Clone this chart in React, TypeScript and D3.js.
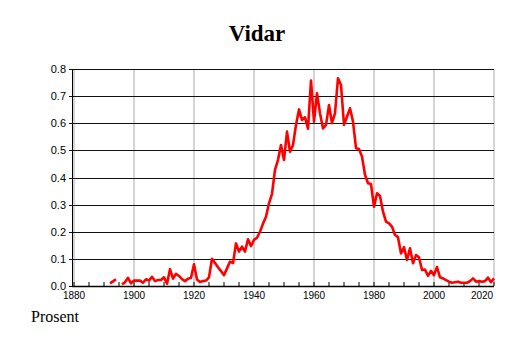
import React from "react";
import * as d3 from "d3";

const years: number[] = d3.range(1892, 2021);
const values: (number | null)[] = [
  // 1892-1899
  0.01, 0.017, 0.025, null, 0.006, 0.014, 0.03, 0.01,
  // 1900-1909
  0.02, 0.02, 0.02, 0.012, 0.025, 0.02, 0.034, 0.018, 0.022, 0.022,
  // 1910-1919
  0.032, 0.008, 0.062, 0.027, 0.045, 0.037, 0.025, 0.018, 0.027, 0.03,
  // 1920-1929
  0.08, 0.024, 0.015, 0.018, 0.02, 0.032, 0.1, 0.085, 0.069, 0.055,
  // 1930-1939
  0.04, 0.065, 0.09, 0.084, 0.157, 0.127, 0.145, 0.127, 0.172, 0.147,
  // 1940-1949
  0.17, 0.178, 0.2, 0.23, 0.255, 0.305, 0.34, 0.428, 0.465, 0.52,
  // 1950-1959
  0.465, 0.569, 0.495, 0.52, 0.594, 0.651, 0.612, 0.622, 0.58, 0.757,
  // 1960-1969
  0.606, 0.71, 0.637, 0.581, 0.594, 0.667, 0.6, 0.637, 0.766, 0.741,
  // 1970-1979
  0.594, 0.624, 0.655, 0.606, 0.508, 0.505, 0.477, 0.41, 0.379, 0.376,
  // 1980-1989
  0.292, 0.342, 0.332, 0.274, 0.237, 0.231, 0.219, 0.188, 0.18, 0.12,
  // 1990-1999
  0.143, 0.096, 0.139, 0.084, 0.114, 0.106, 0.059, 0.061, 0.037, 0.056,
  // 2000-2009
  0.04, 0.07, 0.032, 0.028, 0.022, 0.016, 0.012, 0.014, 0.016, 0.012,
  // 2010-2020
  0.012, 0.012, 0.018, 0.028, 0.016, 0.018, 0.016, 0.018, 0.031, 0.014, 0.028,
];
const yTicks: number[] = [0, 0.1, 0.2, 0.3, 0.4, 0.5, 0.6, 0.7, 0.8];
const xTicks: number[] = [1880, 1900, 1920, 1940, 1960, 1980, 2000, 2020];
const xMinorTicks: number[] = d3.range(1880, 2021, 5);
const title = "Vidar";
const yLabel = "Prosent";

export default function App() {
  const W = 514;
  const H = 343;
  const left = 72;
  const right = 494;
  const x = d3.scaleLinear().domain([1880, 2020]).range([74, 494]);
  const y = d3.scaleLinear().domain([0, 0.8]).range([286, 69]);
  const data = years.map((yr, i) => ({ yr, v: values[i] }));
  const line = d3
    .line<{ yr: number; v: number | null }>()
    .defined((d) => d.v != null)
    .x((d) => x(d.yr))
    .y((d) => y(d.v as number));

  return (
    <svg
      width={W}
      height={H}
      style={{ position: "absolute", left: 0, top: 0, background: "#fff" }}
    >
      <rect x={0} y={0} width={W} height={H} fill="#fff" />
      <text
        x={257}
        y={41}
        textAnchor="middle"
        fontFamily="'Liberation Serif', 'Times New Roman', serif"
        fontWeight="bold"
        fontSize={23}
      >
        {title}
      </text>
      {xTicks.map((t) => (
        <line
          key={"vx" + t}
          x1={x(t)}
          x2={x(t)}
          y1={y(0.8)}
          y2={y(0)}
          stroke="#aaa"
          strokeWidth={1}
        />
      ))}
      {yTicks.map((t) => (
        <line
          key={"gy" + t}
          x1={left - 3}
          x2={right}
          y1={Math.round(y(t)) + 0.5}
          y2={Math.round(y(t)) + 0.5}
          stroke="#111"
          strokeWidth={1}
        />
      ))}
      <line x1={left + 0.5} x2={left + 0.5} y1={y(0.8)} y2={y(0) + 1} stroke="#000" />
      {xMinorTicks.map((t) => (
        <line
          key={"mx" + t}
          x1={x(t)}
          x2={x(t)}
          y1={y(0)}
          y2={y(0) - 4}
          stroke="#000"
          strokeWidth={1}
        />
      ))}
      <line x1={left} x2={right} y1={286.5} y2={286.5} stroke="#000" strokeWidth={1.5} />
      {yTicks.map((t) => (
        <text
          key={"ly" + t}
          x={66}
          y={y(t) + 4}
          textAnchor="end"
          fontFamily="'Liberation Sans', Arial, sans-serif"
          fontSize={11}
        >
          {t.toFixed(1)}
        </text>
      ))}
      {xTicks.map((t, i) => (
        <text
          key={"lx" + t}
          x={i === xTicks.length - 1 ? right - 12 : x(t)}
          y={299}
          textAnchor="middle"
          fontFamily="'Liberation Sans', Arial, sans-serif"
          fontSize={10}
        >
          {t}
        </text>
      ))}
      <path
        d={line(data) || ""}
        fill="none"
        stroke="#ff0000"
        strokeWidth={2.6}
        strokeLinejoin="round"
      />
      <text
        x={31}
        y={322}
        fontFamily="'Liberation Serif', 'Times New Roman', serif"
        fontSize={16}
      >
        {yLabel}
      </text>
    </svg>
  );
}
